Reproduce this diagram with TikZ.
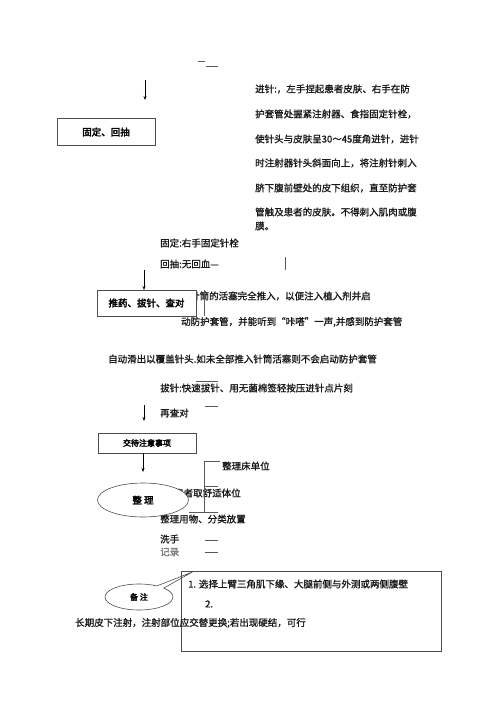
\documentclass[tikz,border=0pt]{standalone}
\usepackage{fontspec}
\setmainfont{Noto Sans CJK SC}
\newfontfamily\medf{Noto Sans CJK SC}[FakeBold=1.2]
\newfontfamily\boldf{Noto Sans CJK SC}[FakeBold=3]
\usetikzlibrary{shapes.geometric,shapes.callouts,arrows.meta}
\definecolor{ink}{gray}{0.1}
\definecolor{soft}{gray}{0.45}
\begin{document}
\begin{tikzpicture}[x=1pt,y=-1pt,
  txt/.style={anchor=west,inner sep=0pt,font=\medf\fontsize{9.5}{11}\selectfont,text=ink},
  boxlbl/.style={draw=black!70,line width=0.6pt,minimum width=98pt,minimum height=26pt,inner sep=0pt,font=\boldf\fontsize{9.5}{11}\selectfont,fill=white},
  arr/.style={-{Stealth[length=4pt,width=3pt]},line width=0.6pt},
  thin/.style={line width=0.5pt,draw=black!65}]
\useasboundingbox (0,0) rectangle (500,707);
% top marks
\coordinate (m1a) at (198,61); \coordinate (m1b) at (205,61);
\coordinate (m2a) at (206,66); \coordinate (m2b) at (218,66);
\draw[thin] (m1a) -- (m1b); \draw[thin] (m2a) -- (m2b);
% arrow 1
\coordinate (a1s) at (145,80); \coordinate (a1e) at (145,100);
\draw[arr] (a1s) -- (a1e);
\node[boxlbl,minimum width=98pt,minimum height=27pt] (b1) at (106,132) {固定、回抽};
% right text block
\node[txt] (t1) at (255,89) {进针:，左手捏起患者皮肤、右手在防};
\node[txt] (t2) at (255,114) {护套管处握紧注射器、食指固定针栓，};
\node[txt] (t3) at (255,139) {使针头与皮肤呈30～45度角进针，进针};
\node[txt] (t4) at (255,163) {时注射器针头斜面向上，将注射针刺入};
\node[txt] (t5) at (255,188) {脐下腹前壁处的皮下组织，直至防护套};
\node[txt] (t6) at (255,212) {管触及患者的皮肤。不得刺入肌肉或腹};
\node[txt] (t7) at (255,226) {膜。};
% fix
\node[txt] (f1) at (160,243) {固定:右手固定针栓};
\node[txt] (f2) at (160,264) {回抽:无回血—};
\coordinate (v1a) at (285,257); \coordinate (v1b) at (285,270);
\draw[thin] (v1a) -- (v1b);
% arrow 2
\coordinate (a2s) at (144,270); \coordinate (a2e) at (144,290);
\draw[arr] (a2s) -- (a2e);
\node[txt] (p1) at (190,296) {针筒的活塞完全推入，以便注入植入剂并启};
\node[boxlbl,minimum width=99pt,minimum height=26pt] (b2) at (146.5,303) {推药、拔针、查对};
\coordinate (v2a) at (204,290); \coordinate (v2b) at (204,316);
\draw[thin] (v2a) -- (v2b);
\node[txt] (p2) at (181,322) {动防护套管，并能听到“咔嗒”一声,并感到防护套管};
\node[txt] (p3) at (108,359) {自动滑出以覆盖针头.如未全部推入针筒活塞则不会启动防护套管};
\node[txt] (p4) at (160,388) {拔针:快速拔针、用无菌棉签轻按压进针点片刻};
\coordinate (o1a) at (196,381); \coordinate (o1b) at (218,381);
\draw[thin] (o1a) -- (o1b);
\coordinate (m3a) at (205,406); \coordinate (m3b) at (218,406);
\draw[thin] (m3a) -- (m3b);
% arrow 3
\coordinate (a3s) at (144,405); \coordinate (a3e) at (144,421);
\draw[arr] (a3s) -- (a3e);
\node[txt] (p5) at (160,413) {再查对};
\node[boxlbl,minimum width=98pt,minimum height=20pt,font=\boldf\fontsize{8}{9}\selectfont] (b3) at (147,443) {交待注意事项};
% arrow 4
\draw[arr] (b3.south -| 143,0) -- (143,472) coordinate (a4e);
% bracket
\coordinate (k1) at (204,461); \coordinate (k1e) at (220,461);
\coordinate (k2) at (204,486); \coordinate (k2e) at (218,486);
\coordinate (k3) at (204,512); \coordinate (k3s) at (189,512); \coordinate (k3e) at (218,512);
\node[txt] (r1) at (222,466) {整理床单位};
\node[txt] (r2) at (155,493) {协助患者取舒适体位};
\node[txt] (r3) at (160,519) {整理用物、分类放置};
\draw[thin] (k1e) -- (k1) -- (k3); \draw[thin] (k2) -- (k2e); \draw[thin] (k3s) -- (k3e);
\node[ellipse,draw=black!70,line width=0.6pt,fill=white,minimum width=91pt,minimum height=34pt,inner sep=0pt,font=\boldf\fontsize{9.5}{11}\selectfont] (e1) at (143,500) {整\ 理};
\node[txt] (w1) at (160,539) {洗手};
\node[txt,text=soft] (w2) at (160,552) {记录};
\coordinate (w1a) at (205,540); \coordinate (w1b) at (218,540);
\coordinate (w2a) at (205,552); \coordinate (w2b) at (218,552);
\draw[thin] (w1a) -- (w1b); \draw[thin] (w2a) -- (w2b);
% notes
\node[draw=black!70,line width=0.6pt,minimum width=260pt,minimum height=80pt,inner sep=0pt] (nb) at (311,611) {};
\node[txt] (n1) at (188,584) {1. 选择上臂三角肌下缘、大腿前侧与外测或两侧腹壁};
\node[txt] (n2) at (205,604) {2.};
\node[txt] (n3) at (75,623) {长期皮下注射，注射部位应交替更换;若出现硬结，可行};
\node[ellipse callout,draw=black!70,line width=0.6pt,minimum width=68pt,minimum height=26pt,inner sep=0pt,callout relative pointer={(32,-15)},font=\boldf\fontsize{8}{9}\selectfont] (e2) at (139,597) {备\ 注};
\end{tikzpicture}
\end{document}
